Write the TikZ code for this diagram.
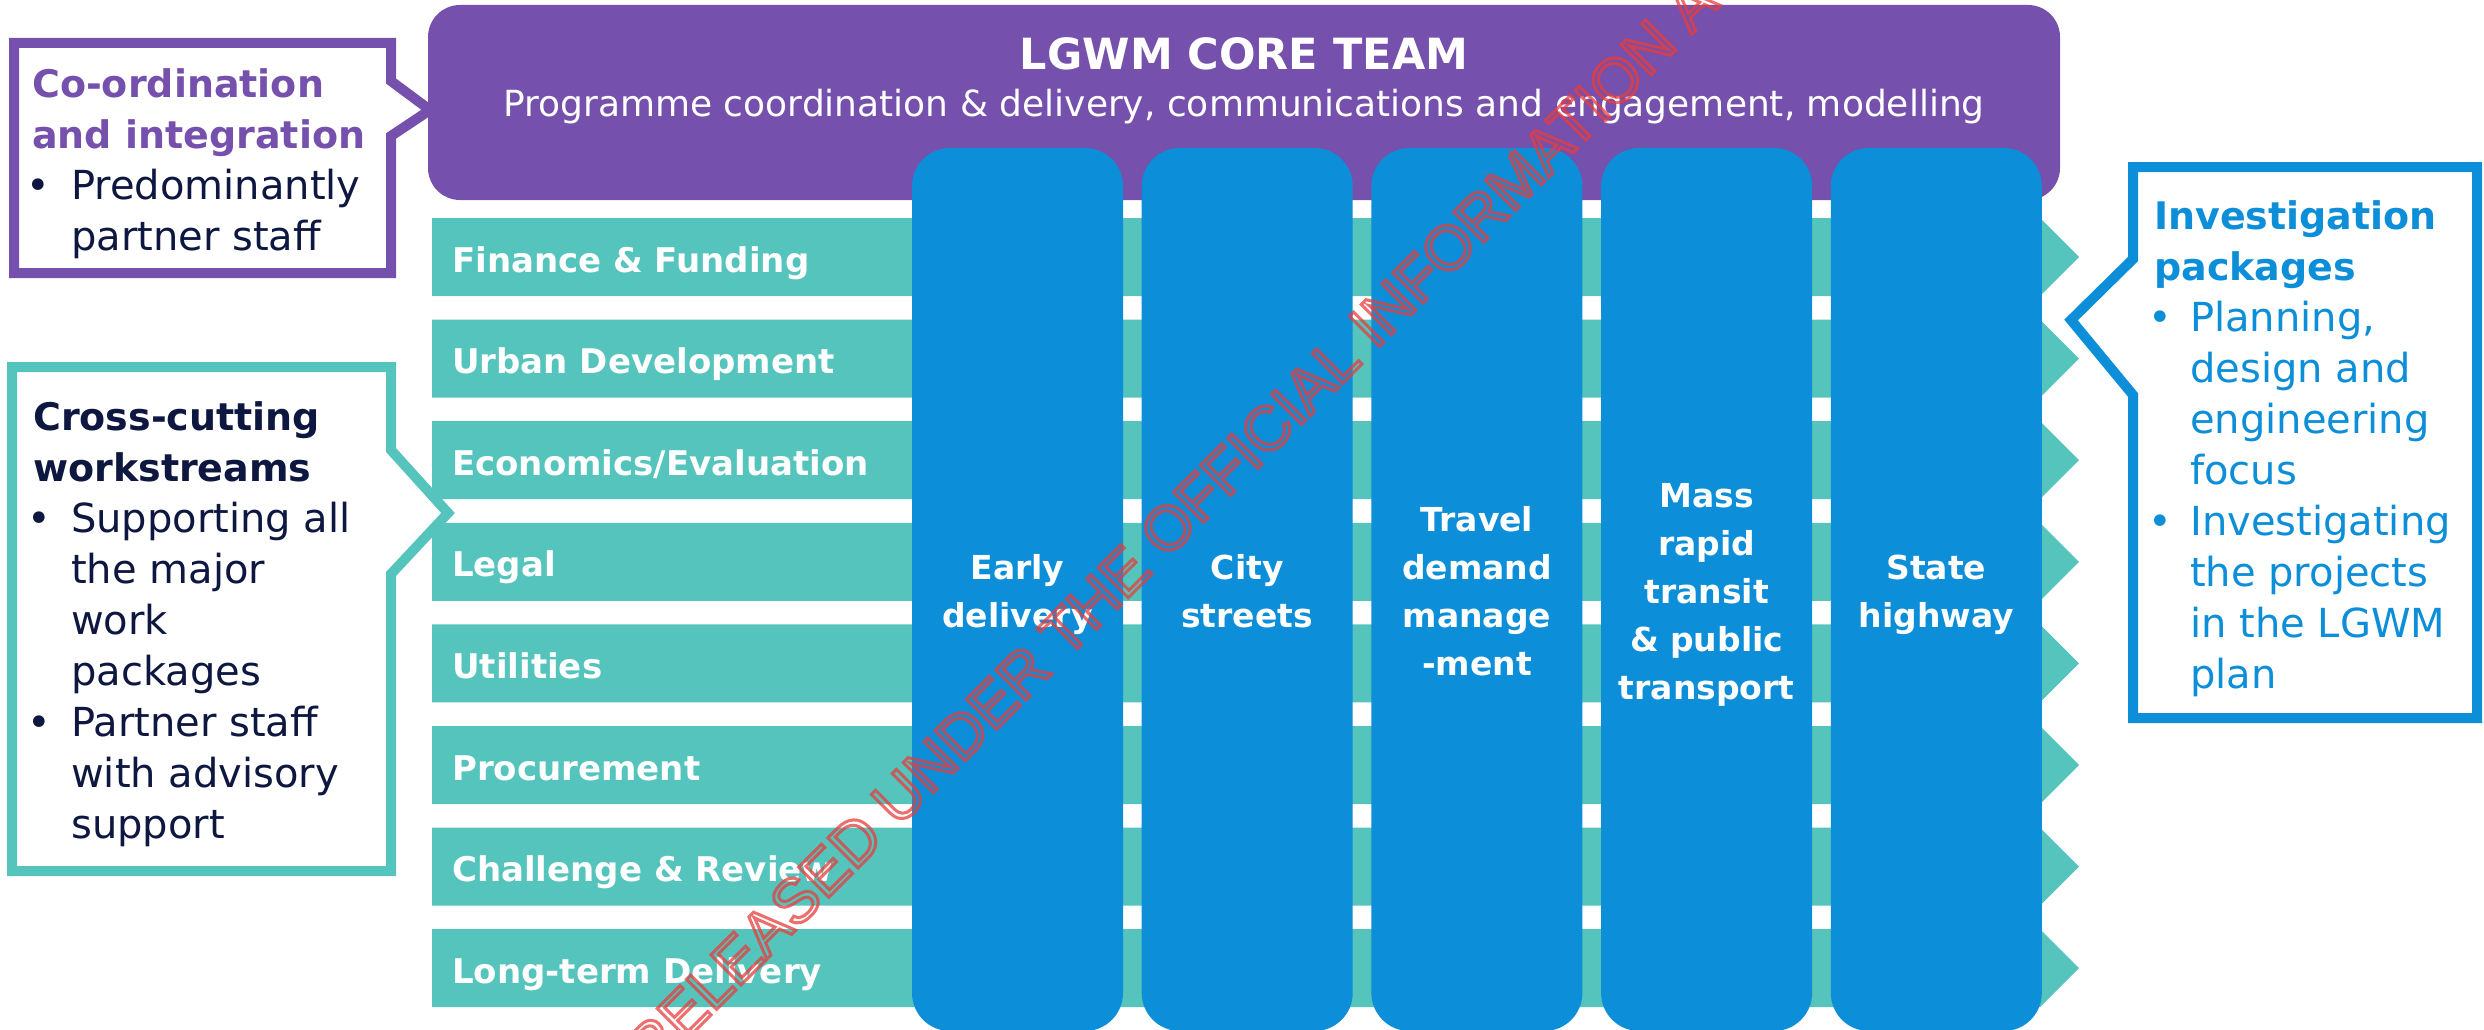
\documentclass[tikz,border=0pt]{standalone}
\usepackage{fontspec}
\setmainfont{DejaVu Sans}
\newfontfamily\wmfont{Liberation Sans}
\definecolor{lgpurple}{HTML}{7550AC}
\definecolor{lgteal}{HTML}{55C4BD}
\definecolor{lgblue}{HTML}{0C8ED8}
\definecolor{lgnavy}{HTML}{0D1740}
\definecolor{wmred}{HTML}{E83C3C}
% bullet lists with a hanging indent
\newlength\itemgap
\newcommand\itembul{\makebox[\itemgap][l]{\hspace*{-6pt}\textbullet}}
\newcommand\itemcont{\hspace*{\itemgap}}
\newcommand\leftblock[2]{\vtop{\hsize=#1\parindent=0pt\parskip=0pt\relax\raggedright\leavevmode #2\par}}
\newcommand\midblock[2]{\vtop{\hsize=#1\parindent=0pt\parskip=0pt\relax\centering\leavevmode #2\par}}
\newcommand\calloutheading{\bfseries\fontsize{38}{51}\selectfont}
\begin{document}
\begin{tikzpicture}[x=1pt,y=-1pt,
  callout/.style={fill=white, line width=10pt, miter limit=10},
  column/.style={fill=lgblue, rounded corners=38pt},
  barlabel/.style={anchor=base west, inner sep=0pt, text=white,
    font=\fontsize{34}{40}\selectfont\bfseries},
  collabel/.style={anchor=base, inner sep=0pt, text=white,
    font=\fontsize{33}{48}\selectfont\bfseries},
  calltext/.style={anchor=base west, inner sep=0pt,
    font=\fontsize{40}{51}\selectfont},
]
\useasboundingbox (0,0) rectangle (2484,1030);

% callout boxes (drawn first so the bars sit over the pointer of the middle one)
\draw[callout, draw=lgpurple] (14,43) -- (391,43) -- (391,81) -- (430,110)
  -- (391,136) -- (391,273) -- (14,273) -- cycle;
\draw[callout, draw=lgteal] (12,367) -- (391,367) -- (391,450) -- (448,513)
  -- (391,574) -- (391,871) -- (12,871) -- cycle;
\draw[callout, draw=lgblue] (2133,167) -- (2477,167) -- (2477,718) -- (2133,718)
  -- (2133,395) -- (2071,320) -- (2133,259) -- cycle;

% cross-cutting workstream bars with arrow ends
\foreach \lab [count=\k from 0] in {Finance \& Funding, Urban Development,
    Economics/Evaluation, Legal, Utilities, Procurement,
    Challenge \& Review, Long-term Delivery}{
  \pgfmathsetmacro\t{218+101.6*\k}
  \fill[lgteal] (432,\t) -- (2040,\t) -- (2079,\t+39) -- (2040,\t+78)
    -- (432,\t+78) -- cycle;
  \node[barlabel] (ws\k) at (452,\t+54) {\lab};
}

% core team
\fill[lgpurple, rounded corners=32pt] (428,5) rectangle (2060,200);
\node[anchor=base, inner sep=0pt, text=white,
  font=\fontsize{43}{50}\selectfont\bfseries] (core) at (1244,70) {LGWM CORE TEAM};
\node[anchor=base, inner sep=0pt, text=white,
  font=\fontsize{36}{44}\selectfont] (coresub) at (1244,117)
  {Programme coordination \& delivery, communications and engagement, modelling};

% work package columns
\fill[column] (912,148) rectangle (1123,1031);
\fill[column] (1141.7,148) rectangle (1352.7,1031);
\fill[column] (1371.4,148) rectangle (1582.4,1031);
\fill[column] (1601.1,148) rectangle (1812.1,1031);
\fill[column] (1830.8,148) rectangle (2041.8,1031);
\node[collabel] (early) at (1017.5,579) {\midblock{211pt}{Early\\delivery}};
\node[collabel] (city) at (1247.2,579) {\midblock{211pt}{City\\streets}};
\node[collabel] (tdm) at (1476.9,531) {\midblock{211pt}{Travel\\demand\\manage\\-ment}};
\node[collabel] (mrt) at (1706.6,507) {\midblock{211pt}{Mass\\rapid\\transit\\\& public\\transport}};
\node[collabel] (sh) at (1936.3,579) {\midblock{211pt}{State\\highway}};

% callout texts
\node[calltext, text=lgnavy] (coord) at (32,98) {\leftblock{380pt}{\setlength\itemgap{39pt}%
  {\calloutheading\color{lgpurple}Co-ordination}\\
  {\calloutheading\color{lgpurple}and integration}\\
  \itembul Predominantly\\
  \itemcont partner staff}};
\node[calltext, text=lgnavy] (cross) at (33,430) {\leftblock{380pt}{\setlength\itemgap{38pt}%
  {\calloutheading Cross-cutting}\\
  {\calloutheading workstreams}\\
  \itembul Supporting all\\
  \itemcont the major\\
  \itemcont work\\
  \itemcont packages\\
  \itembul Partner staff\\
  \itemcont with advisory\\
  \itemcont support}};
\node[calltext, text=lgblue] (invest) at (2154,229) {\leftblock{340pt}{\setlength\itemgap{36pt}%
  {\calloutheading Investigation}\\
  {\calloutheading packages}\\
  \itembul Planning,\\
  \itemcont design and\\
  \itemcont engineering\\
  \itemcont focus\\
  \itembul Investigating\\
  \itemcont the projects\\
  \itemcont in the LGWM\\
  \itemcont plan}};

% release stamp, outlined letters
\begin{scope}[opacity=0.75]
\clip (0,0) rectangle (2484,1030);
\node[rotate=45, anchor=base west, inner sep=0pt, text=wmred,
  font=\fontsize{62}{62}\selectfont\wmfont] (stamp) at (652,1074)
  {\special{pdf:literal direct 1 Tr 3 w}RELEASED UNDER THE OFFICIAL INFORMATION ACT};
\end{scope}
\end{tikzpicture}
\end{document}
